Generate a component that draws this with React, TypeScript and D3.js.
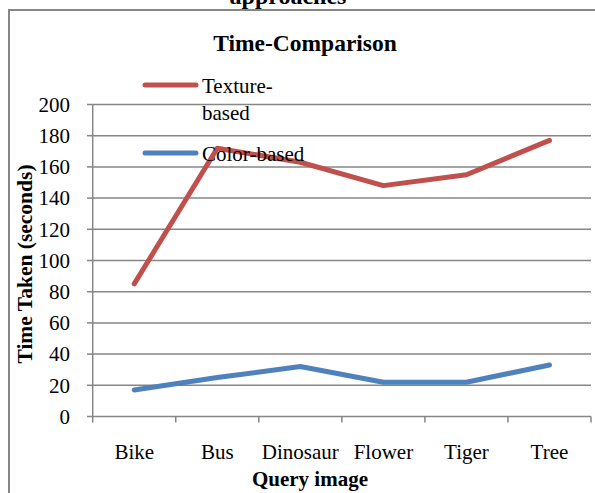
import React from "react";
import { scaleLinear, scaleBand, line, range } from "d3";

const categories = ["Bike", "Bus", "Dinosaur", "Flower", "Tiger", "Tree"];
const textureBased = [85, 172, 163, 148, 155, 177];
const colorBased = [17, 25, 32, 22, 22, 33];
const yTicks = [0, 20, 40, 60, 80, 100, 120, 140, 160, 180, 200];

const W = 595;
const H = 493;
const left = 92.7;
const right = 591;
const top = 104.5;
const bottom = 416.5;
const grid = "#868686";
const font = "'Liberation Serif', 'Times New Roman', serif";

const App: React.FC = () => {
  const x = scaleBand<string>().domain(categories).range([left, right]).padding(0);
  const y = scaleLinear().domain([0, 200]).range([bottom, top]);
  const cx = (c: string) => x(c)! + x.bandwidth() / 2;

  const mkLine = line<number>()
    .x((_, i) => cx(categories[i]))
    .y((d) => y(d));

  const series = [
    { name: ["Texture-", "based"], values: textureBased, color: "#C0504D", ly: 85 },
    { name: ["Color-based"], values: colorBased, color: "#4F81BD", ly: 153 },
  ];

  return (
    <div style={{ position: "fixed", left: 0, top: 0 }}>
      <svg width={W} height={H} style={{ display: "block", background: "#fff", fontFamily: font }}>
        <text x={288} y={4} textAnchor="middle" fontSize={24} fontWeight="bold">
          approaches
        </text>
        {/* outer frame */}
        <rect x={9} y={10} width={W + 10} height={H + 10} fill="none" stroke={grid} strokeWidth={2} />

        <text x={305} y={51} textAnchor="middle" fontSize={23.5} fontWeight="bold">
          Time-Comparison
        </text>

        {/* gridlines */}
        {yTicks.map((t) => (
          <g key={t}>
            <line x1={left} x2={right} y1={y(t)} y2={y(t)} stroke={grid} strokeWidth={1.5} />
            <line x1={87} x2={left} y1={y(t)} y2={y(t)} stroke={grid} strokeWidth={1.5} />
            <text x={70} y={y(t)} dy="0.35em" textAnchor="end" fontSize={21}>
              {t}
            </text>
          </g>
        ))}
        <line x1={left} x2={left} y1={top} y2={bottom} stroke={grid} strokeWidth={1.5} />
        {range(categories.length + 1).map((i) => {
          const xx = left + x.step() * i;
          return <line key={i} x1={xx} x2={xx} y1={bottom} y2={bottom + 6} stroke={grid} strokeWidth={1.5} />;
        })}
        {categories.map((c) => (
          <text key={c} x={cx(c)} y={459} textAnchor="middle" fontSize={21}>
            {c}
          </text>
        ))}

        <text x={310} y={486} textAnchor="middle" fontSize={21} fontWeight="bold">
          Query image
        </text>
        <text
          transform={`translate(32,264) rotate(-90)`}
          textAnchor="middle"
          fontSize={21.5}
          fontWeight="bold"
        >
          Time Taken (seconds)
        </text>

        {series.map((s) => (
          <path
            key={s.color}
            d={mkLine(s.values)!}
            fill="none"
            stroke={s.color}
            strokeWidth={5}
            strokeLinejoin="round"
            strokeLinecap="round"
          />
        ))}

        {series.map((s) => (
          <g key={"lg" + s.color}>
            <line x1={145} x2={196} y1={s.ly} y2={s.ly} stroke={s.color} strokeWidth={5} strokeLinecap="round" />
            {s.name.map((n, i) => (
              <text key={n} x={202} y={s.ly + 8 + i * 27} fontSize={21}>
                {n}
              </text>
            ))}
          </g>
        ))}
      </svg>
    </div>
  );
};

export default App;
